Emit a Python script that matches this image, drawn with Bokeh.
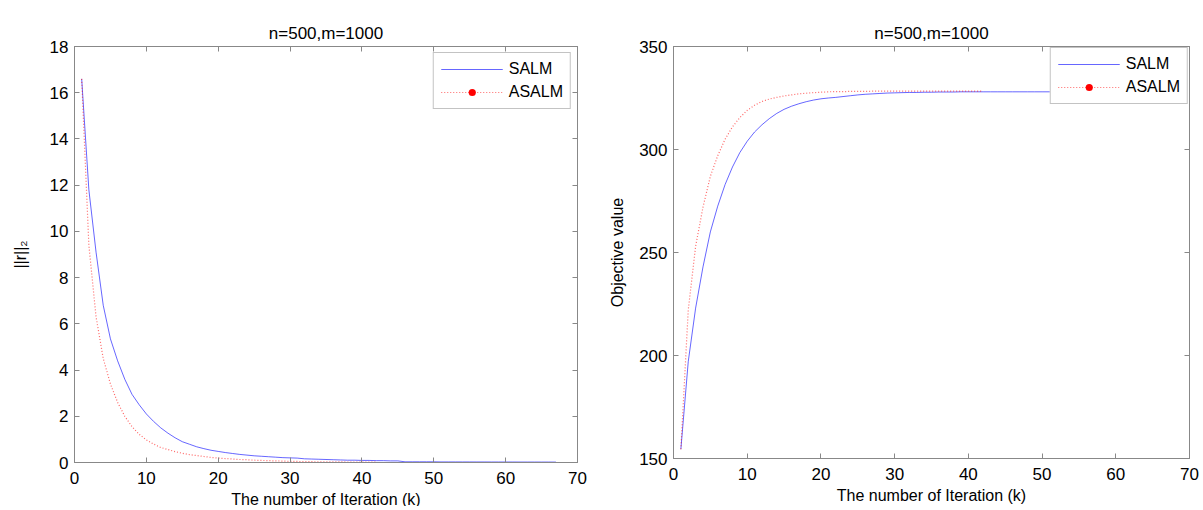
from bokeh.plotting import figure
from bokeh.models import (Range1d, LinearAxis, FixedTicker, CustomJSTickFormatter,
                          Legend, LegendItem)
from bokeh.layouts import row
from bokeh.embed import file_html
from bokeh.resources import INLINE

# ---------------- data ----------------
title_text = "n=500,m=1000"
x_label = "The number of Iteration (k)"

salm_res = [16.6, 11.8, 9.1, 6.8, 5.35, 4.4, 3.6, 2.95, 2.5, 2.1,
            1.78, 1.5, 1.27, 1.07, 0.9, 0.79, 0.68, 0.6, 0.53, 0.48,
            0.43, 0.39, 0.35, 0.32, 0.29, 0.27, 0.25, 0.23, 0.21, 0.2,
            0.19, 0.16, 0.15, 0.14, 0.13, 0.12, 0.11, 0.1, 0.1, 0.09,
            0.09, 0.08, 0.08, 0.07, 0.07, 0.03, 0.03, 0.03, 0.03, 0.03,
            0.025, 0.025, 0.025, 0.024, 0.024, 0.023, 0.023, 0.022, 0.022, 0.021,
            0.021, 0.02, 0.02, 0.02, 0.019, 0.019, 0.018]
asalm_res = [16.6, 9.4, 6.3, 4.5, 3.4, 2.6, 2.0, 1.55, 1.22, 0.98,
             0.8, 0.65, 0.56, 0.47, 0.4, 0.34, 0.3, 0.26, 0.22, 0.19,
             0.17, 0.15, 0.13, 0.12, 0.1, 0.09, 0.08, 0.07, 0.06, 0.05,
             0.045, 0.04, 0.035, 0.03, 0.028, 0.026, 0.024, 0.022, 0.02, 0.018,
             0.016, 0.015]
salm_obj = [154.5, 197, 223, 243, 260, 272.5, 283, 291.5, 298.5, 304,
            308.5, 312, 315, 317.5, 319.5, 321, 322.2, 323.2, 324, 324.6,
            325, 325.3, 325.7, 326.1, 326.5, 326.8, 327, 327.2, 327.4, 327.5,
            327.6, 327.7, 327.7, 327.8, 327.8, 327.9, 327.9, 327.9, 328, 328,
            328, 328, 328, 328, 328, 328, 328, 328, 328, 328,
            328, 328, 328, 328, 328, 328, 328, 328, 328, 328,
            328, 328, 328, 328, 328, 328, 328]
asalm_obj = [154.5, 222, 253, 272, 287, 297, 305, 311, 315.5, 319,
             321.5, 323.3, 324.5, 325.3, 326, 326.5, 327, 327.3, 327.6, 327.8,
             328, 328.1, 328.1, 328.2, 328.2, 328.2, 328.3, 328.3, 328.3, 328.3,
             328.3, 328.3, 328.3, 328.3, 328.3, 328.3, 328.3, 328.3, 328.3, 328.3,
             328.3, 328.3]

x_ticks = [0, 10, 20, 30, 40, 50, 60, 70]
res_ticks = [0, 2, 4, 6, 8, 10, 12, 14, 16, 18]
obj_ticks = [150, 200, 250, 300, 350]

FONT = "Liberation Sans"
AX = "#888888"


def style_axis(ax, ticks, show_labels=True):
    ax.ticker = FixedTicker(ticks=ticks)
    ax.axis_line_color = AX
    ax.major_tick_line_color = AX
    ax.major_tick_in = 5
    ax.major_tick_out = 0
    ax.minor_tick_line_color = None
    ax.major_label_text_font = FONT
    ax.major_label_text_font_size = "17px"
    ax.major_label_text_color = "black"
    ax.major_label_standoff = 6
    ax.axis_label_text_font = FONT
    ax.axis_label_text_font_size = "16px"
    ax.axis_label_text_font_style = "normal"
    ax.axis_label_text_color = "black"
    if not show_labels:
        ax.formatter = CustomJSTickFormatter(code="return ''")
        ax.major_label_standoff = 0


def make_fig(xr, yr, yticks, ylabel, salm, asalm, fw, fh, bl, br, bt, bb,
             ylab_standoff):
    p = figure(frame_width=fw, frame_height=fh, x_range=xr, y_range=yr,
               output_backend="svg", toolbar_location=None,
               min_border_left=bl, min_border_right=br,
               min_border_top=bt, min_border_bottom=bb,
               title=title_text)
    p.title.align = "center"
    p.title.text_font = FONT
    p.title.text_font_size = "17px"
    p.title.text_font_style = "normal"
    p.title.text_color = "black"
    p.title.standoff = 8
    p.grid.visible = False
    p.outline_line_color = AX
    p.background_fill_color = "white"
    p.border_fill_color = "white"

    style_axis(p.xaxis[0], x_ticks)
    style_axis(p.yaxis[0], yticks)
    p.xaxis[0].major_label_standoff = 9
    p.xaxis[0].axis_label = x_label
    p.xaxis[0].axis_label_standoff = 4
    p.yaxis[0].axis_label = ylabel
    p.yaxis[0].axis_label_standoff = ylab_standoff

    top = LinearAxis()
    style_axis(top, x_ticks, show_labels=False)
    top.major_label_standoff = 12
    p.add_layout(top, "above")
    right = LinearAxis()
    style_axis(right, yticks, show_labels=False)
    p.add_layout(right, "right")

    k1 = list(range(1, len(salm) + 1))
    k2 = list(range(1, len(asalm) + 1))
    r1 = p.line(k1, salm, line_color="blue", line_alpha=0.6, line_width=1)
    r2 = p.line(k2, asalm, line_color="red", line_alpha=0.6, line_width=1.2,
                line_dash="1 2")
    # point markers of the ASALM series (size 0 on the curve, shown in the legend key)
    r3 = p.scatter(k2, asalm, size=0, fill_color="red", line_color="red",
                   line_width=0, marker="circle")

    legend = Legend(items=[LegendItem(label="SALM", renderers=[r1]),
                           LegendItem(label="ASALM", renderers=[r2, r3])],
                    location="top_right")
    legend.label_text_font = FONT
    legend.label_text_font_size = "16px"
    legend.label_text_color = "black"
    legend.glyph_width = 62
    legend.glyph_height = 18
    legend.label_height = 18
    legend.label_standoff = 6
    legend.padding = 7
    legend.spacing = 5
    legend.border_line_color = AX
    legend.background_fill_alpha = 1
    p.add_layout(legend, "center")
    return p, legend


p1, lg1 = make_fig(Range1d(0, 70), Range1d(0, 18), res_ticks, "||r||\u2082",
                   salm_res, asalm_res, 503, 416, 74, 26, 39, 51, 18)
lg1.margin = 6
p2, lg2 = make_fig(Range1d(0, 70), Range1d(150, 350), obj_ticks, "Objective value",
                   salm_obj, asalm_obj, 516, 412, 70, 14, 46, 46, 10)
lg2.margin = 1
lg2.location = "top_right"

layout = row(p1, p2)
open("out.html", "w").write(file_html(layout, INLINE))
